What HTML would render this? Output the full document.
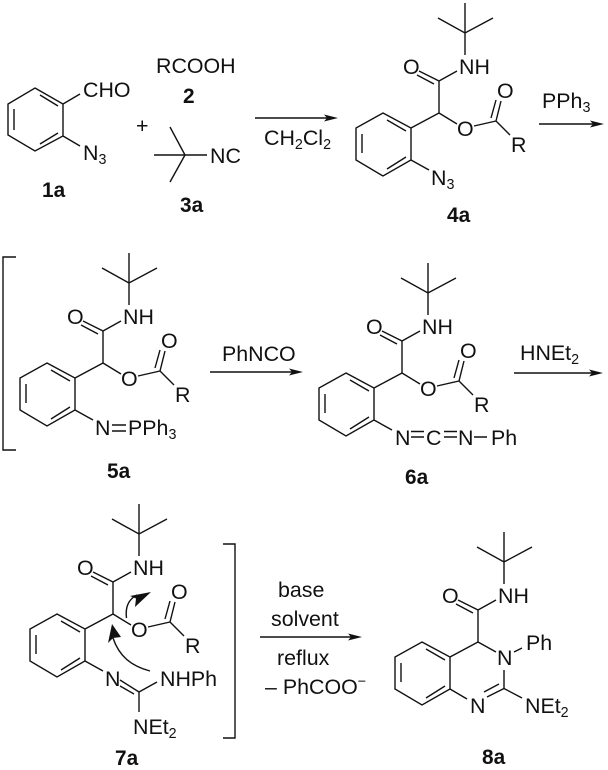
<!DOCTYPE html>
<html>
<head>
<meta charset="utf-8">
<style>
html,body{margin:0;padding:0;background:#fff;}
svg{display:block;}
text{font-family:"Liberation Sans",sans-serif;font-size:21.4px;fill:#111;}
text.b{font-weight:bold;font-size:20.8px;}
tspan.s{font-size:14.3px;}
path.l{fill:none;stroke:#111;stroke-width:1.4;}
polygon{fill:#111;}
</style>
</head>
<body>
<svg width="608" height="770" viewBox="0 0 608 770" xmlns="http://www.w3.org/2000/svg">
<rect width="608" height="770" fill="#fff"/>

<!-- 1a -->
<path class="l" d="M35,88L63,104V136L35,151L8,135V104Z M40,95L58,106 M14,109V130 M40,144L58,133 M63,104L80,94 M63,136L80,146"/>
<text x="83" y="97">CHO</text>
<text x="83" y="160">N<tspan class="s" dy="4">3</tspan></text>
<text class="b" x="42" y="197">1a</text>
<text x="136" y="133">+</text>
<text x="156" y="73">RCOOH</text>
<text class="b" x="183" y="103">2</text>
<!-- 3a -->
<path class="l" d="M185,155L170,127 M185,155H154 M185,155L170,182 M185,155H207"/>
<text x="210" y="163">NC</text>
<text class="b" x="180" y="212">3a</text>
<!-- arrow 1 -->
<path class="l" d="M255,118H330"/>
<polygon points="338,118 324,114.5 327,118 324,121.5"/>
<text x="264" y="145">CH<tspan class="s" dy="4">2</tspan><tspan dy="-4">Cl</tspan><tspan class="s" dy="4">2</tspan></text>

<!-- 4a -->
<g>
<path class="l" d="M465,3V55 M438,18L465,33L493,18 M439,81L457,71 M419,71L439,81 M417,75L434,84 M439,81V113 M411,128L439,113 M383,113L411,128V160L383,176L356,160V128Z M387,120L406,131 M362,134V153 M387,169L406,157 M439,113L457,124 M474,126L496,121 M496,121L501,101 M491,118L496,100 M496,121L510,135 M411,160L429,170"/>
<text x="459" y="74">NH</text>
<text x="403" y="74">O</text>
<text x="457" y="136">O</text>
<text x="497" y="98">O</text>
<text x="511" y="152">R</text>
<text x="431" y="185">N<tspan class="s" dy="4">3</tspan></text>
</g>
<text class="b" x="447" y="222">4a</text>
<text x="542" y="108">PPh<tspan class="s" dy="4">3</tspan></text>
<path class="l" d="M539,124H597"/>
<polygon points="604,124 590,120.5 593,124 590,127.5"/>

<!-- 5a -->
<path class="l" d="M16,257H3V450H16"/>
<g transform="translate(-336,250)">
<path class="l" d="M465,3V55 M438,18L465,33L493,18 M439,81L457,71 M419,71L439,81 M417,75L434,84 M439,81V113 M411,128L439,113 M383,113L411,128V160L383,176L356,160V128Z M387,120L406,131 M362,134V153 M387,169L406,157 M439,113L457,124 M474,126L496,121 M496,121L501,101 M491,118L496,100 M496,121L510,135 M411,160L429,170"/>
<text x="459" y="74">NH</text>
<text x="403" y="74">O</text>
<text x="457" y="136">O</text>
<text x="497" y="98">O</text>
<text x="511" y="152">R</text>
<text x="431" y="185">N</text>
<path class="l" d="M448,175H462 M448,181H462"/>
<text x="464" y="185">PPh<tspan class="s" dy="4">3</tspan></text>
</g>
<text class="b" x="107" y="478">5a</text>
<text x="222" y="361">PhNCO</text>
<path class="l" d="M210,372H296"/>
<polygon points="303,372 289,368.5 292,372 289,375.5"/>

<!-- 6a -->
<g transform="translate(-37,260)">
<path class="l" d="M465,3V55 M438,18L465,33L493,18 M439,81L457,71 M419,71L439,81 M417,75L434,84 M439,81V113 M411,128L439,113 M383,113L411,128V160L383,176L356,160V128Z M387,120L406,131 M362,134V153 M387,169L406,157 M439,113L457,124 M474,126L496,121 M496,121L501,101 M491,118L496,100 M496,121L510,135 M411,160L429,170"/>
<text x="459" y="74">NH</text>
<text x="403" y="74">O</text>
<text x="457" y="136">O</text>
<text x="497" y="98">O</text>
<text x="511" y="152">R</text>
</g>
<text x="395" y="445">N</text>
<path class="l" d="M411,431.500H424 M411,437H424 M444,431.500H457 M444,437H457 M474,437H487"/>
<text x="426" y="445">C</text>
<text x="458" y="445">N</text>
<text x="491" y="445">Ph</text>
<text class="b" x="405" y="484">6a</text>
<text x="520" y="360">HNEt<tspan class="s" dy="4">2</tspan></text>
<path class="l" d="M514,373H596"/>
<polygon points="603,373 589,369.5 592,373 589,376.500"/>

<!-- 7a -->
<g transform="translate(-326,501)">
<path class="l" d="M465,3V55 M438,18L465,33L493,18 M439,81L457,71 M419,71L439,81 M417,75L434,84 M439,81V113 M411,128L439,113 M383,113L411,128V160L383,176L356,160V128Z M387,120L406,131 M362,134V153 M387,169L406,157 M439,113L457,124 M474,126L496,121 M496,121L501,101 M491,118L496,100 M496,121L510,135 M411,160L429,170"/>
<text x="459" y="74">NH</text>
<text x="403" y="74">O</text>
<text x="457" y="136">O</text>
<text x="497" y="98">O</text>
<text x="511" y="152">R</text>
</g>
<text x="105" y="686">N</text>
<path class="l" d="M120,680L139,692 M120,686L134,694 M139,692L157,682 M139,692V712"/>
<text x="160" y="686">NHPh</text>
<text x="133" y="734">NEt<tspan class="s" dy="4">2</tspan></text>
<text class="b" x="115" y="765">7a</text>
<path class="l" d="M223,544H235V738H223"/>
<!-- curved arrows -->
<path class="l" d="M126.500,618C125,606 129,599 137,595"/>
<polygon points="151,592 130,596 136,598.500 135,607"/>
<path class="l" d="M150,671C131,666 119,656 113,638"/>
<polygon points="112,624 108,643 113,638 121,637"/>
<!-- arrow 3 -->
<text x="278" y="597">base</text>
<text x="271" y="626">solvent</text>
<path class="l" d="M260,637H355"/>
<polygon points="362,637 348,633.500 351,637 348,640.500"/>
<text x="277" y="665">reflux</text>
<text x="265" y="694">– PhCOO<tspan class="s" dy="-8">−</tspan></text>

<!-- 8a -->
<g transform="translate(39,529)">
<path class="l" d="M465,3V55 M438,18L465,33L493,18 M439,81L457,71 M419,71L439,81 M417,75L434,84 M439,81V113 M411,128L439,113 M383,113L411,128V160L383,176L356,160V128Z M387,120L406,131 M362,134V153 M387,169L406,157"/>
<text x="459" y="74">NH</text>
<text x="403" y="74">O</text>
</g>
<path class="l" d="M478,642L496,652 M514,652L522,648 M504,670V688.500 M504,688.500L522,698 M450,689L467,699 M487,697L504,688.500 M484,692L499,684"/>
<text x="497" y="665">N</text>
<text x="526" y="650">Ph</text>
<text x="470" y="713">N</text>
<text x="525" y="713">NEt<tspan class="s" dy="4">2</tspan></text>
<text class="b" x="482" y="764">8a</text>
</svg>
</body>
</html>
